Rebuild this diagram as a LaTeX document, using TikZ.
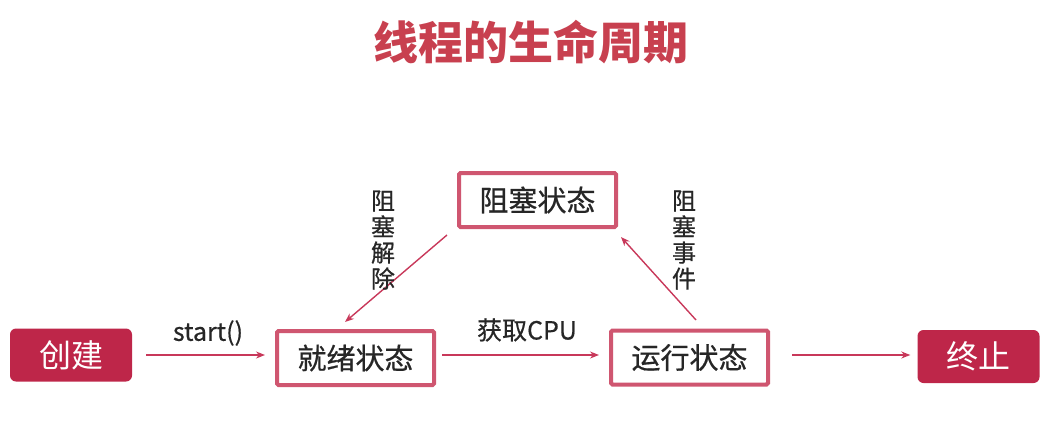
\documentclass[tikz,border=0pt]{standalone}
\usepackage{fontspec}
\setmainfont{Noto Sans CJK SC}
\newfontfamily\medfont{Noto Sans CJK SC}[FakeBold=0.6]
\usetikzlibrary{arrows.meta}
\definecolor{titlered}{HTML}{C8404F}
\definecolor{fillred}{HTML}{BE2649}
\definecolor{borderred}{HTML}{CF5670}
\definecolor{arrowred}{HTML}{C8385A}
\begin{document}
\begin{tikzpicture}[x=1pt,y=-1pt,
  endbox/.style={draw=none,fill=fillred,rounded corners=6pt,text=white,
    minimum width=122pt,minimum height=53pt,inner sep=0pt,
    font=\fontsize{32}{36}\selectfont},
  statebox/.style={draw=borderred,line width=4pt,rounded corners=1.5pt,fill=white,
    minimum width=157pt,minimum height=54pt,inner sep=0pt,text=black!85,
    font=\medfont\fontsize{29}{33}\selectfont},
  conn/.style={draw=arrowred,line width=1.4pt,-{Stealth[length=9pt,width=7pt]}},
  lbl/.style={text=black!85,font=\medfont\fontsize{25}{28}\selectfont,inner sep=0pt},
  vlbl/.style={text=black!85,font=\medfont\fontsize{24}{26}\selectfont,align=center,inner sep=0pt}]
\useasboundingbox (0,0) rectangle (1058,437);
\node[text=titlered,font=\fontsize{45}{50}\selectfont\bfseries] (title) at (531,42) {线程的生命周期};
\node[endbox] (create) at (71,355) {创建};
\node[statebox] (ready) at (355.5,358) {就绪状态};
\node[statebox] (run) at (689.5,357.5) {运行状态};
\node[endbox] (end) at (978.5,356.5) {终止};
\node[statebox] (block) at (537.5,200) {阻塞状态};
\draw[conn] (create.east) ++(14pt,0) coordinate (c1) -- ([xshift=-10pt]ready.west |- c1);
\node[lbl] (lstart) at (208,333) {start()};
\draw[conn] ([xshift=6pt]ready.east |- c1) coordinate (c2) -- ([xshift=-10pt]run.west |- c1);
\node[lbl] (lcpu) at (527,330) {获取CPU};
\draw[conn] ([xshift=22pt]run.east |- c1) coordinate (c3) -- ([xshift=-7pt]end.west |- c1);
\coordinate (b1) at (447,235);
\coordinate (b2) at (345,322);
\draw[conn] (b1) -- (b2);
\coordinate (r1) at (696,320);
\coordinate (r2) at (621,237);
\draw[conn] (r1) -- (r2);
\node[vlbl] (lrelease) at (383,240) {阻\\塞\\解\\除};
\node[vlbl] (levent) at (684,240) {阻\\塞\\事\\件};
\end{tikzpicture}
\end{document}
